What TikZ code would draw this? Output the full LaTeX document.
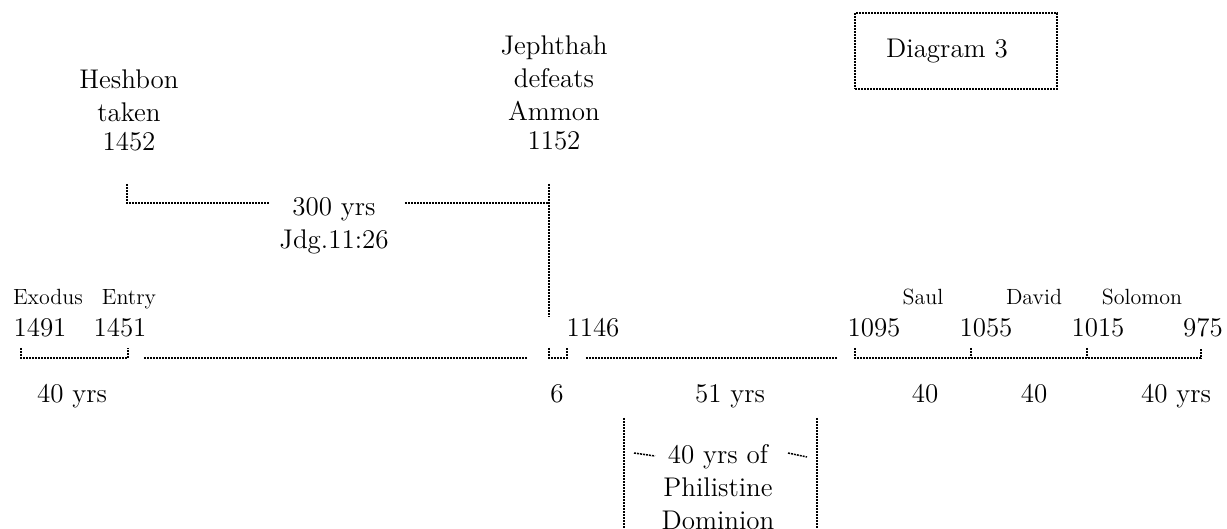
\documentclass[tikz,border=0pt]{standalone}
\begin{document}
\begin{tikzpicture}[x=0.5pt,y=-0.5pt,
  ln/.style={line width=0.75pt, dash pattern=on 1pt off 0.5pt},
  big/.style={font=\fontsize{13.5}{16.5}\selectfont, inner sep=0pt, align=center, anchor=base},
  small/.style={font=\fontsize{11}{13}\selectfont, inner sep=0pt, anchor=base},
  box/.style={ln, draw, minimum width=101pt, minimum height=38pt, inner sep=0pt,
     font=\fontsize{13.5}{16.5}\selectfont}]
\useasboundingbox (0,0) rectangle (1227,529);

% title box
\node[box] (diag) at (956,51) {Diagram 3\hspace*{9pt}};

% upper events (base anchor = baseline of the last line)
\node[big] (hesh) at (129,151) {Heshbon\\taken\\[-2pt]1452};
\node[big] (jeph) at (554,150) {Jephthah\\defeats\\Ammon\\[-2pt]1152};
\node[big] (t300) at (334,249) {300 yrs\\Jdg.11:26};

\coordinate (hT) at (127,184);
\coordinate (hC) at (127,203);
\coordinate (jT) at (549,184);
\coordinate (jC) at (549,203);
\coordinate (jB) at (549,317);
\coordinate (tL) at (269,203);
\coordinate (tR) at (405,203);
\draw[ln] (hT) -- (hC) -- (tL);
\draw[ln] (tR) -- (jC);
\draw[ln] (jT) -- (jB);

% timeline labels
\node[small] (exo) at (48,305) {Exodus};
\node[small] (ent) at (129,305) {Entry};
\node[small] (saul) at (923,305) {Saul};
\node[small] (dav) at (1034,305) {David};
\node[small] (sol) at (1142,305) {Solomon};

\node[big] (y1491) at (40,337) {1491};
\node[big] (y1451) at (120,337) {1451};
\node[big] (y1146) at (593,337) {1146};
\node[big] (y1095) at (874,337) {1095};
\node[big] (y1055) at (986,337) {1055};
\node[big] (y1015) at (1098,337) {1015};
\node[big] (y975) at (1203,337) {975};

% timeline brackets
\coordinate (a1) at (21,348);  \coordinate (a2) at (21,358);
\coordinate (a3) at (128,358); \coordinate (a4) at (128,348);
\draw[ln] (a1) -- (a2) -- (a3) -- (a4);
\coordinate (b1) at (144,358); \coordinate (b2) at (527,358);
\draw[ln] (b1) -- (b2);
\coordinate (c1) at (549,348); \coordinate (c2) at (549,358);
\coordinate (c3) at (567,358); \coordinate (c4) at (567,348);
\draw[ln] (c1) -- (c2) -- (c3) -- (c4);
\coordinate (d1) at (586,358); \coordinate (d2) at (838,358);
\draw[ln] (d1) -- (d2);
\coordinate (e1) at (855,348); \coordinate (e2) at (855,358);
\coordinate (e3) at (1201,358); \coordinate (e4) at (1201,348);
\coordinate (f1) at (971,348); \coordinate (f2) at (971,358);
\coordinate (g1) at (1087,348); \coordinate (g2) at (1087,358);
\draw[ln] (e1) -- (e2) -- (e3) -- (e4);
\draw[ln] (f1) -- (f2);
\draw[ln] (g1) -- (g2);

% durations
\node[big] (d40a) at (72,402) {40 yrs};
\node[big] (d6) at (557,402) {6};
\node[big] (d51) at (730,402) {51 yrs};
\node[big] (d40b) at (925,402) {40};
\node[big] (d40c) at (1034,402) {40};
\node[big] (d40d) at (1176,402) {40 yrs};

% Philistine dominion
\node[big] (phil) at (718,529) {40 yrs of\\Philistine\\Dominion};
\coordinate (pL1) at (624,418); \coordinate (pL2) at (624,529);
\coordinate (pR1) at (817,418); \coordinate (pR2) at (817,529);
\draw[ln] (pL1) -- (pL2);
\draw[ln] (pR1) -- (pR2);
\coordinate (q1) at (634,453); \coordinate (q2) at (655,456);
\coordinate (q3) at (788,453); \coordinate (q4) at (807,457);
\draw[ln] (q1) -- (q2);
\draw[ln] (q3) -- (q4);
\end{tikzpicture}
\end{document}
